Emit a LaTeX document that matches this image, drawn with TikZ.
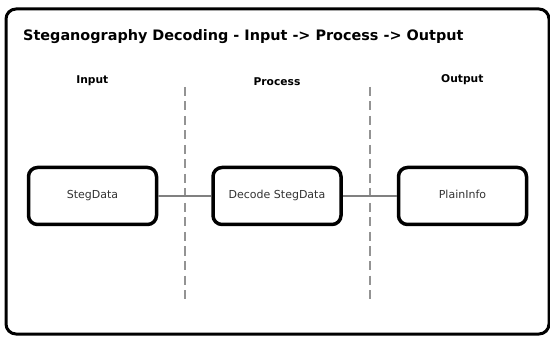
\documentclass[tikz,border=0pt]{standalone}
\usepackage{fontspec}
\setmainfont{DejaVu Sans}
\begin{document}
\begin{tikzpicture}[x=1pt,y=-1pt,
  frame/.style={draw=black,line width=3pt,rounded corners=10pt},
  stagebox/.style={draw=black,line width=3.5pt,rounded corners=9pt,fill=white,
    minimum width=128pt,minimum height=57pt,text=black!80,
    text height=8pt,text depth=2.5pt,
    font=\fontsize{11}{13}\selectfont},
  header/.style={font=\bfseries\fontsize{10.7}{13}\selectfont},
  divider/.style={draw=gray!85,line width=1.6pt,dash pattern=on 9pt off 5.5pt},
  link/.style={draw=gray,line width=1.3pt}]
\useasboundingbox (0,0) rectangle (550,337);
% outer frame
\draw[frame] (6,9) rectangle (549,334);
% title
\node[anchor=west,inner sep=0pt,font=\bfseries\fontsize{14.4}{17}\selectfont] (title) at (23,37)
  {Steganography Decoding - Input -> Process -> Output};
% column headers
\node[header] (hin) at (92.3,80.5) {Input};
\node[header] (hproc) at (277,82) {Process};
\node[header] (hout) at (462.3,80) {Output};
% column dividers
\coordinate (d1t) at (185,87);
\coordinate (d1b) at (185,299);
\coordinate (d2t) at (370,87);
\coordinate (d2b) at (370,299);
\draw[divider] (d1t) -- (d1b);
\draw[divider] (d2t) -- (d2b);
% stages
\node[stagebox] (steg) at (92.5,196) {StegData};
\node[stagebox] (dec) at (277,196) {Decode StegData};
\node[stagebox] (plain) at (462.5,196) {PlainInfo};
% links
\draw[link] (steg.east) -- (dec.west);
\draw[link] (dec.east) -- (plain.west);
\end{tikzpicture}
\end{document}
